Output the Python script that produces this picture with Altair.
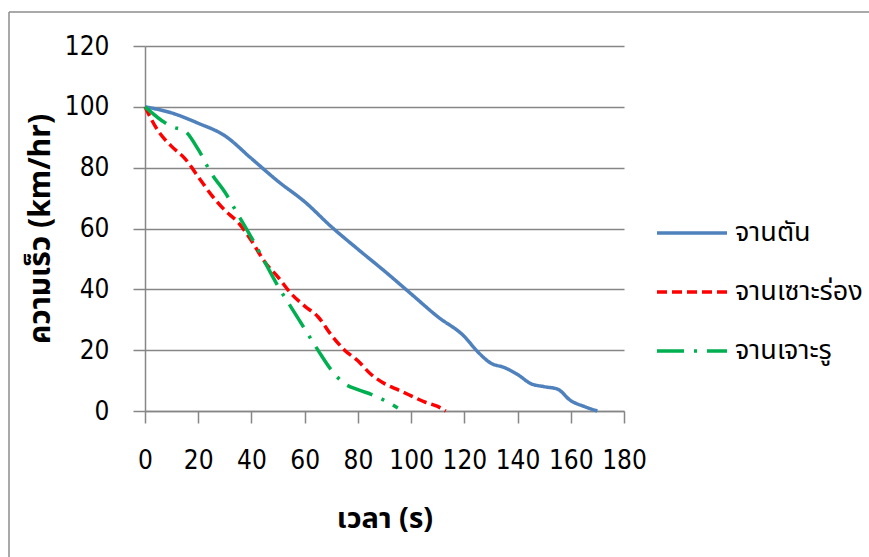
import altair as alt
import pandas as pd

series_names = ["จานตัน", "จานเซาะร่อง", "จานเจาะรู"]

t_solid = [0, 10, 20, 30, 40, 50, 60, 70, 80, 90, 100, 110, 120, 125, 130, 135, 140, 145, 150, 155, 160, 165, 170]
v_solid = [100, 98, 94.6, 90.5, 83, 75.5, 68.8, 60.6, 53.2, 46, 38.5, 31, 24.5, 19.5, 15.7, 14.3, 12, 9, 8, 7.2, 3.4, 1.5, 0]

t_groove = [0, 5, 10, 15, 20, 25, 30, 35, 40, 45, 50, 55, 60, 65, 70, 75, 80, 85, 90, 95, 100, 105, 110, 113]
v_groove = [100, 92, 87, 83, 77, 71, 66, 62, 56, 49, 44, 38.5, 34.5, 31, 25, 20, 16.5, 12, 9, 7, 5, 3, 1.5, 0]

t_hole = [0, 10, 15, 20, 25, 30, 35, 40, 45, 50, 55, 60, 65, 70, 75, 80, 85, 90, 95]
v_hole = [100, 93.5, 92, 86, 78, 72, 64.5, 57, 49, 41, 34, 27, 20, 13.5, 9, 7, 5.5, 3.5, 1]

rows = []
for name, ts, vs in [(series_names[0], t_solid, v_solid),
                     (series_names[1], t_groove, v_groove),
                     (series_names[2], t_hole, v_hole)]:
    for t, v in zip(ts, vs):
        rows.append({"series": name, "t": t, "v": v})
df = pd.DataFrame(rows)

FONT_NUM = "DejaVu Sans Condensed, Liberation Sans, sans-serif"
FONT_TH = "Noto Sans Thai, Noto Sans Thai Looped, Tahoma, sans-serif"

lines = alt.Chart(df).mark_line(strokeWidth=3.5, interpolate="monotone").encode(
    x=alt.X("t:Q", scale=alt.Scale(domain=[0, 180], nice=False),
            axis=alt.Axis(values=list(range(0, 181, 20)), title="เวลา (s)",
                          grid=False, tickSize=12, tickColor="#868686", tickWidth=1.5,
                          domainColor="#868686", domainWidth=1.5, labelOverlap=False,
                          labelFlush=False,
                          labelFont=FONT_NUM, labelFontSize=26, labelColor="#000000",
                          labelPadding=24, titleFont=FONT_TH, titleFontSize=29,
                          titleFontWeight="bold", titleColor="#000000", titlePadding=31)),
    y=alt.Y("v:Q", scale=alt.Scale(domain=[0, 120], nice=False),
            axis=alt.Axis(values=list(range(0, 121, 20)), title="ความเร็ว  (km/hr)",
                          grid=True, gridColor="#868686", gridWidth=1.5,
                          tickSize=12, tickColor="#868686", tickWidth=1.5,
                          domainColor="#868686", domainWidth=1.5, labelOverlap=False,
                          labelFlush=False,
                          labelFont=FONT_NUM, labelFontSize=26, labelColor="#000000",
                          labelPadding=24, titleFont=FONT_TH, titleFontSize=30,
                          titleFontWeight="bold", titleColor="#000000", titlePadding=9)),
    color=alt.Color("series:N",
                    scale=alt.Scale(domain=series_names, range=["#4F81BD", "#FF0000", "#00B050"]),
                    legend=alt.Legend(title=None, orient="none", legendX=510, legendY=150,
                                      symbolType="stroke", symbolSize=4900, symbolStrokeWidth=3.5,
                                      labelFont=FONT_TH, labelFontSize=27, labelColor="#000000",
                                      labelOffset=6, rowPadding=9, padding=0, labelLimit=400)),
    strokeDash=alt.StrokeDash("series:N",
                              scale=alt.Scale(domain=series_names,
                                              range=[[1, 0], [10, 5], [27, 10, 3, 10]]),
                              legend=None),
    order=alt.Order("t:Q"),
)

one = alt.Data(values=[{"a": 1}])
frame_top = alt.Chart(one).mark_rule(stroke="#8c8c8c", strokeWidth=1.5).encode(
    x=alt.value(-136), x2=alt.value(1200), y=alt.value(-34))
frame_left = alt.Chart(one).mark_rule(stroke="#8c8c8c", strokeWidth=1.5).encode(
    x=alt.value(-136), y=alt.value(-34), y2=alt.value(700))

chart = alt.layer(frame_top, frame_left, lines).properties(
    width=479, height=365,
    autosize=alt.AutoSizeParams(type="none"),
    padding={"left": 145, "top": 46, "right": 245, "bottom": 146},
    background="white",
).configure_view(stroke=None)

chart.save("out.html", embed_options={"renderer": "svg", "actions": False})
